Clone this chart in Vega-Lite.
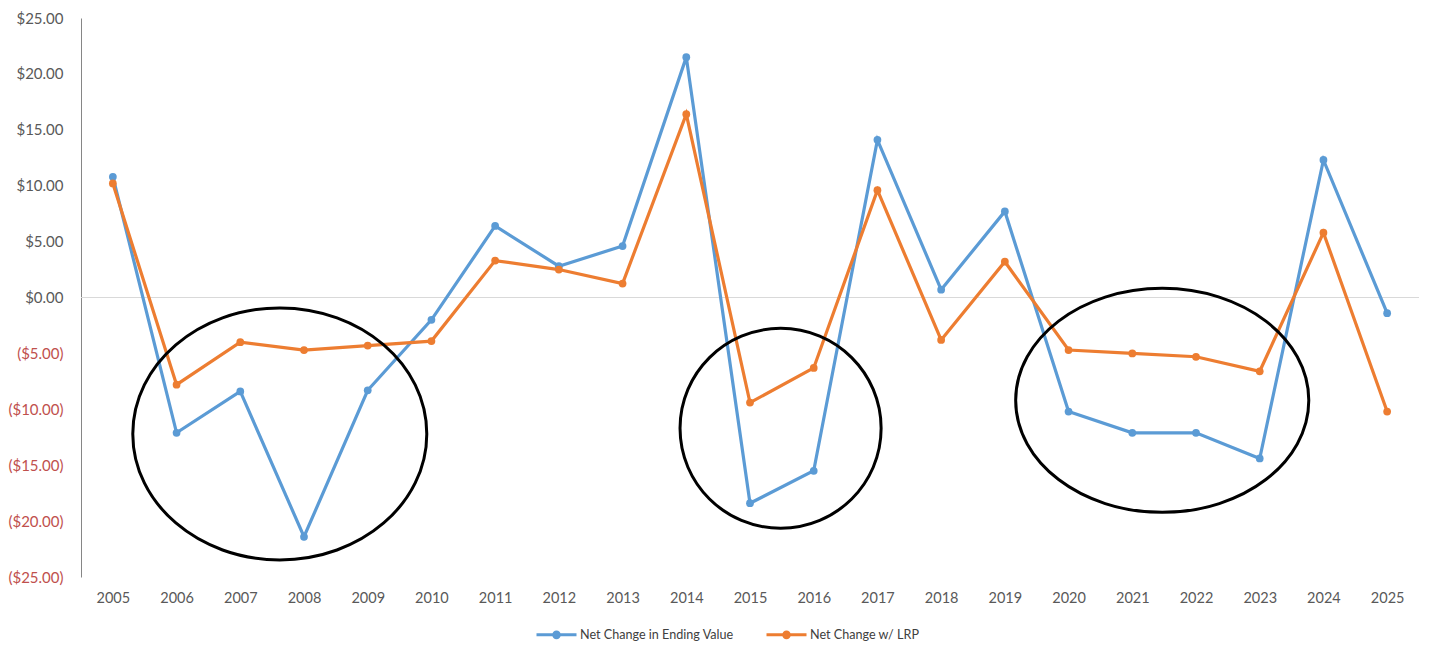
{
  "$schema": "https://vega.github.io/schema/vega-lite/v6.json",
  "description": "Net change in ending value vs net change with LRP, 2005-2025",
  "autosize": {"type": "none"},
  "width": 1338,
  "height": 559,
  "padding": {"left": 81, "top": 18, "right": 21, "bottom": 74},
  "background": "white",
  "config": {
    "view": {"stroke": null},
    "font": "Lato",
    "axis": {"labelFont": "Lato", "labelColor": "#595959", "grid": false, "ticks": false}
  },
  "layer": [
    {
      "data": {"values": [{"zero": 0}]},
      "mark": {"type": "rule", "color": "#d9d9d9", "strokeWidth": 1},
      "encoding": {"y": {"field": "zero", "type": "quantitative"}}
    },
    {
      "data": {
        "values": [
          {"year": 2005, "series": "Net Change in Ending Value", "value": 10.8},
          {"year": 2006, "series": "Net Change in Ending Value", "value": -12.1},
          {"year": 2007, "series": "Net Change in Ending Value", "value": -8.4},
          {"year": 2008, "series": "Net Change in Ending Value", "value": -21.4},
          {"year": 2009, "series": "Net Change in Ending Value", "value": -8.3},
          {"year": 2010, "series": "Net Change in Ending Value", "value": -2.0},
          {"year": 2011, "series": "Net Change in Ending Value", "value": 6.4},
          {"year": 2012, "series": "Net Change in Ending Value", "value": 2.8},
          {"year": 2013, "series": "Net Change in Ending Value", "value": 4.6},
          {"year": 2014, "series": "Net Change in Ending Value", "value": 21.5},
          {"year": 2015, "series": "Net Change in Ending Value", "value": -18.4},
          {"year": 2016, "series": "Net Change in Ending Value", "value": -15.5},
          {"year": 2017, "series": "Net Change in Ending Value", "value": 14.1},
          {"year": 2018, "series": "Net Change in Ending Value", "value": 0.7},
          {"year": 2019, "series": "Net Change in Ending Value", "value": 7.7},
          {"year": 2020, "series": "Net Change in Ending Value", "value": -10.2},
          {"year": 2021, "series": "Net Change in Ending Value", "value": -12.1},
          {"year": 2022, "series": "Net Change in Ending Value", "value": -12.1},
          {"year": 2023, "series": "Net Change in Ending Value", "value": -14.4},
          {"year": 2024, "series": "Net Change in Ending Value", "value": 12.3},
          {"year": 2025, "series": "Net Change in Ending Value", "value": -1.4},
          {"year": 2005, "series": "Net Change w/ LRP", "value": 10.2},
          {"year": 2006, "series": "Net Change w/ LRP", "value": -7.8},
          {"year": 2007, "series": "Net Change w/ LRP", "value": -4.0},
          {"year": 2008, "series": "Net Change w/ LRP", "value": -4.7},
          {"year": 2009, "series": "Net Change w/ LRP", "value": -4.3},
          {"year": 2010, "series": "Net Change w/ LRP", "value": -3.9},
          {"year": 2011, "series": "Net Change w/ LRP", "value": 3.3},
          {"year": 2012, "series": "Net Change w/ LRP", "value": 2.5},
          {"year": 2013, "series": "Net Change w/ LRP", "value": 1.25},
          {"year": 2014, "series": "Net Change w/ LRP", "value": 16.4},
          {"year": 2015, "series": "Net Change w/ LRP", "value": -9.4},
          {"year": 2016, "series": "Net Change w/ LRP", "value": -6.3},
          {"year": 2017, "series": "Net Change w/ LRP", "value": 9.6},
          {"year": 2018, "series": "Net Change w/ LRP", "value": -3.8},
          {"year": 2019, "series": "Net Change w/ LRP", "value": 3.2},
          {"year": 2020, "series": "Net Change w/ LRP", "value": -4.7},
          {"year": 2021, "series": "Net Change w/ LRP", "value": -5.0},
          {"year": 2022, "series": "Net Change w/ LRP", "value": -5.3},
          {"year": 2023, "series": "Net Change w/ LRP", "value": -6.6},
          {"year": 2024, "series": "Net Change w/ LRP", "value": 5.8},
          {"year": 2025, "series": "Net Change w/ LRP", "value": -10.2}
        ]
      },
      "mark": {"type": "line", "strokeWidth": 3.2, "point": {"filled": true, "size": 60}},
      "encoding": {
        "x": {
          "field": "year",
          "type": "quantitative",
          "scale": {"domain": [2004.5, 2025.5], "nice": false, "zero": false},
          "axis": {
            "title": null,
            "values": [2005, 2006, 2007, 2008, 2009, 2010, 2011, 2012, 2013, 2014, 2015, 2016, 2017, 2018, 2019, 2020, 2021, 2022, 2023, 2024, 2025],
            "format": "d",
            "domain": false,
            "labelFontSize": 14.5,
            "labelPadding": 14
          }
        },
        "y": {
          "field": "value",
          "type": "quantitative",
          "scale": {"domain": [-25, 25], "nice": false},
          "axis": {
            "title": null,
            "values": [-25, -20, -15, -10, -5, 0, 5, 10, 15, 20, 25],
            "labelExpr": "datum.value < 0 ? '($' + format(-datum.value, '.2f') + ')' : '$' + format(datum.value, '.2f')",
            "labelColor": {"condition": {"test": "datum.value < 0", "value": "#C0504D"}, "value": "#595959"},
            "labelFontSize": 15,
            "labelPadding": 18,
            "domain": true,
            "domainColor": "#868686",
            "domainWidth": 1
          }
        },
        "color": {
          "field": "series",
          "type": "nominal",
          "scale": {"domain": ["Net Change in Ending Value", "Net Change w/ LRP"], "range": ["#5B9BD5", "#ED7D31"]},
          "legend": {
            "title": null,
            "orient": "none",
            "direction": "horizontal",
            "legendX": 454,
            "legendY": 595,
            "labelFontSize": 12.6,
            "labelLimit": 400,
            "labelColor": "#404040",
            "labelOffset": 2,
            "columnPadding": 26,
            "symbolType": "M-1,0L1,0M-0.14,0A0.14,0.14 0 1,1 0.14,0A0.14,0.14 0 1,1 -0.14,0Z",
            "symbolSize": 1600,
            "symbolStrokeWidth": 3
          }
        }
      }
    },
    {
      "data": {
        "values": [
          {"year": 2007.62, "value": -12.2, "ring": "A"},
          {"year": 2015.48, "value": -11.7, "ring": "B"},
          {"year": 2021.47, "value": -9.2, "ring": "C"}
        ]
      },
      "mark": {"type": "point", "filled": false, "color": "black", "strokeWidth": 3, "size": 86436, "opacity": 1},
      "encoding": {
        "x": {"field": "year", "type": "quantitative"},
        "y": {"field": "value", "type": "quantitative"},
        "shape": {
          "field": "ring",
          "type": "nominal",
          "scale": {
            "domain": ["A", "B", "C"],
            "range": [
              "M-1,0A1,0.857 0 1,1 1,0A1,0.857 0 1,1 -1,0Z",
              "M-0.684,0A0.684,0.68 0 1,1 0.684,0A0.684,0.68 0 1,1 -0.684,0Z",
              "M-0.997,0A0.997,0.762 0 1,1 0.997,0A0.997,0.762 0 1,1 -0.997,0Z"
            ]
          },
          "legend": null
        }
      }
    }
  ]
}
